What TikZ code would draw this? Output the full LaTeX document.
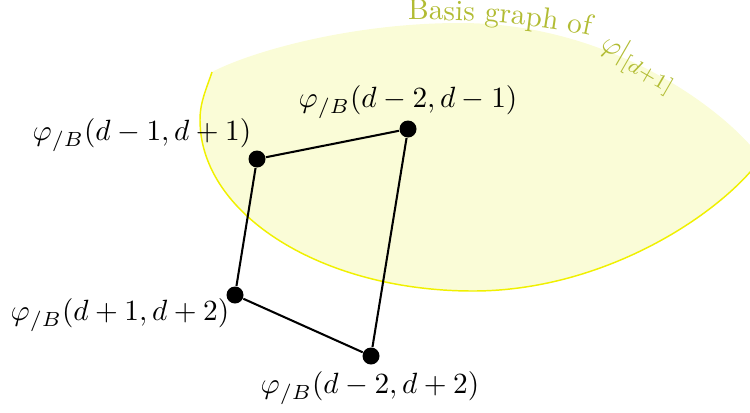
\documentclass[tikz,border=0pt]{standalone}
\usetikzlibrary{decorations.text}
\definecolor{blobfill}{RGB}{250,252,215}
\definecolor{blobline}{RGB}{240,240,0}
\definecolor{blobtext}{RGB}{178,188,52}
\begin{document}
\begin{tikzpicture}[x=0.3413pt,y=0.3413pt,
  dot/.style={circle,fill=black,inner sep=0pt,minimum size=5.8pt},
  lbl/.style={inner sep=0pt},
  edge/.style={line width=0.7pt}]
\useasboundingbox (0,0) rectangle (750,412);
\clip (0,0) rectangle (750,412);
\coordinate (s) at (212,340);
\coordinate (l) at (200,292);
\coordinate (bt) at (473,121);
\coordinate (r) at (760,252);
\coordinate (rt) at (760,255);
\coordinate (tp) at (460,389);
\fill[blobfill] (s) .. controls (206,322) and (200,310) .. (l)
  .. controls (200,197.6) and (322,121) .. (bt)
  .. controls (603,121) and (718,196) .. (r)
  -- (rt) .. controls (724,303) and (610,389) .. (tp)
  .. controls (350,389) and (250,360) .. (s) -- cycle;
\draw[blobline, line width=0.5pt] (s) .. controls (206,322) and (200,310) .. (l)
  .. controls (200,197.6) and (322,121) .. (bt)
  .. controls (603,121) and (718,196) .. (r);
\path[decorate, decoration={text along path, text color=blobtext,
  text={Basis graph of}}]
  (408,392) .. controls (480,393) and (540,388) .. (600,374);
\node[lbl, text=blobtext, rotate=-30, anchor=base west] (lt) at (599,364) {$\varphi\vert_{[d+1]}$};
\node[dot] (a) at (257,253) {};
\node[dot] (b) at (408,283) {};
\node[dot] (c) at (235,117) {};
\node[dot] (d) at (371,56) {};
\draw[edge] (a) -- (b);
\draw[edge] (a) -- (c);
\draw[edge] (c) -- (d);
\draw[edge] (d) -- (b);
\node[lbl] (la) at (142,277) {$\varphi_{/B}(d-1,d+1)$};
\node[lbl] (lb) at (408,310) {$\varphi_{/B}(d-2,d-1)$};
\node[lbl] (lc) at (120,97) {$\varphi_{/B}(d+1,d+2)$};
\node[lbl] (ld) at (370,24) {$\varphi_{/B}(d-2,d+2)$};
\end{tikzpicture}
\end{document}
